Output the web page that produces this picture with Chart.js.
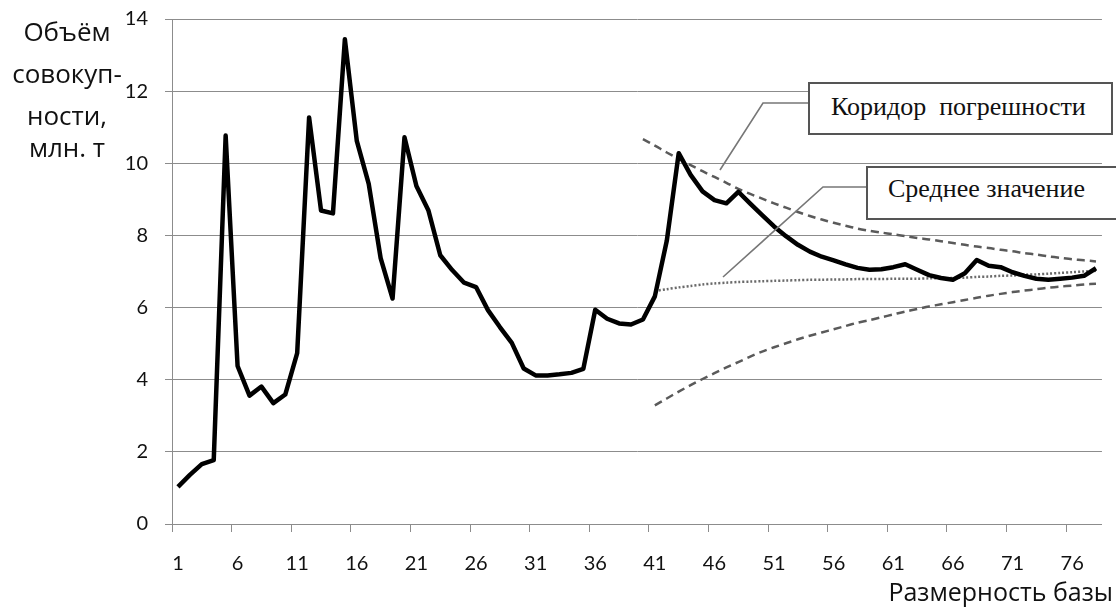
<!DOCTYPE html>
<html>
<head>
<meta charset="utf-8">
<script src="https://cdn.jsdelivr.net/npm/chart.js@4.4.1/dist/chart.umd.min.js"></script>
<style>
  html, body { margin: 0; padding: 0; background: #fff; }
  #wrap { position: relative; width: 1116px; height: 610px; overflow: hidden; }
  #myChart { position: absolute; left: 0; top: 0; }
  .ytitle { position: absolute; left: 0; width: 134px; text-align: center;
    font: 26px "Open Sans", sans-serif; line-height: 26px; color: #111; white-space: nowrap; }
  .xtitle { position: absolute; right: 3px; top: 579px; font: 25px "Open Sans", sans-serif;
    line-height: 25px; color: #111; white-space: nowrap; }
  .callout { position: absolute; background: #fff; border: 2px solid #555; box-sizing: border-box;
    font: 26px "Liberation Serif", "Times New Roman", serif; color: #111; white-space: nowrap;
    display: flex; align-items: center; }
  #leaders { position: absolute; left: 0; top: 0; }
</style>
</head>
<body>
<div id="wrap">
  <canvas id="myChart" width="1116" height="610"></canvas>
  <svg id="leaders" width="1116" height="610">
    <polyline points="808,103 763,103 720,170" fill="none" stroke="#777" stroke-width="1.6"/>
    <polyline points="866,187 823,187 723,277" fill="none" stroke="#777" stroke-width="1.6"/>
  </svg>
  <div class="callout" style="left:808px; top:82px; width:305px; height:53px; padding-left:21px; padding-bottom:3px;">Коридор&nbsp; погрешности</div>
  <div class="callout" style="left:866px; top:166px; width:260px; height:54px; padding-left:20px; padding-bottom:8px;">Среднее значение</div>
  <div class="ytitle" style="top:18px;">Объём</div>
  <div class="ytitle" style="top:60px;">совокуп-</div>
  <div class="ytitle" style="top:102px;">ности,</div>
  <div class="ytitle" style="top:134px;">млн. т</div>
  <div class="xtitle">Размерность базы</div>
</div>
<script>
  const labels = Array.from({length: 78}, (_, i) => String(i + 1));

  const volume = [
    1.03, 1.36, 1.66, 1.77, 10.77, 4.38, 3.56, 3.81, 3.35, 3.59,
    4.74, 11.27, 8.69, 8.61, 13.44, 10.62, 9.43, 7.37, 6.25, 10.72,
    9.37, 8.70, 7.45, 7.04, 6.69, 6.57, 5.93, 5.46, 5.02, 4.31,
    4.12, 4.12, 4.15, 4.19, 4.30, 5.94, 5.69, 5.56, 5.53, 5.67,
    6.31, 7.85, 10.28, 9.68, 9.22, 8.98, 8.89, 9.21, 8.88, 8.56,
    8.25, 7.98, 7.74, 7.55, 7.41, 7.31, 7.20, 7.10, 7.05, 7.06,
    7.12, 7.20, 7.05, 6.90, 6.82, 6.77, 6.95, 7.32, 7.16, 7.12,
    6.98, 6.88, 6.80, 6.77, 6.80, 6.83, 6.88, 7.09
  ];

  // коридор погрешности, верхняя граница (с 40-й точки)
  const upperBound = [
    10.67, 10.49, 10.30, 10.12, 9.95, 9.78, 9.62, 9.46, 9.29, 9.15,
    9.02, 8.89, 8.77, 8.65, 8.54, 8.44, 8.35, 8.27, 8.19, 8.13,
    8.08, 8.03, 7.98, 7.93, 7.89, 7.84, 7.79, 7.74, 7.69, 7.65,
    7.60, 7.56, 7.51, 7.47, 7.42, 7.38, 7.34, 7.31, 7.28
  ];

  // нижняя граница (с 41-й точки)
  const lowerBound = [
    3.29, 3.48, 3.67, 3.85, 4.02, 4.18, 4.34, 4.49, 4.64, 4.78,
    4.90, 5.01, 5.12, 5.22, 5.31, 5.40, 5.49, 5.58, 5.65, 5.73,
    5.81, 5.89, 5.96, 6.03, 6.09, 6.15, 6.21, 6.27, 6.33, 6.38,
    6.43, 6.47, 6.51, 6.55, 6.58, 6.61, 6.64, 6.66
  ];

  // среднее значение (с 41-й точки)
  const meanValue = [
    6.46, 6.51, 6.56, 6.60, 6.64, 6.67, 6.69, 6.71, 6.72, 6.73,
    6.74, 6.75, 6.76, 6.77, 6.77, 6.78, 6.78, 6.79, 6.79, 6.79,
    6.80, 6.80, 6.80, 6.81, 6.81, 6.82, 6.83, 6.85, 6.86, 6.88,
    6.89, 6.91, 6.92, 6.94, 6.96, 6.98, 7.00, 7.02
  ];

  const yTicks = [0, 2, 4, 6, 8, 10, 12, 14];

  function padFront(arr) {
    return Array(labels.length - arr.length).fill(null).concat(arr);
  }

  const gridGray = "#8c8c8c";
  const tickFont = { family: "Lato, sans-serif", size: 20 };

  const ctx = document.getElementById("myChart").getContext("2d");
  new Chart(ctx, {
    type: "line",
    data: {
      labels: labels,
      datasets: [
        {
          data: volume,
          borderColor: "#000",
          borderWidth: 4.5,
          borderJoinStyle: "round",
          pointRadius: 0,
          tension: 0
        },
        {
          data: padFront(upperBound),
          borderColor: "#5a5a5a",
          borderWidth: 2.5,
          borderDash: [8, 5],
          pointRadius: 0,
          tension: 0.3
        },
        {
          data: padFront(lowerBound),
          borderColor: "#5a5a5a",
          borderWidth: 2.5,
          borderDash: [8, 5],
          pointRadius: 0,
          tension: 0.3
        },
        {
          data: padFront(meanValue),
          borderColor: "#6a6a6a",
          borderWidth: 2.5,
          borderDash: [2, 2],
          pointRadius: 0,
          tension: 0.3
        }
      ]
    },
    options: {
      responsive: false,
      animation: false,
      layout: { padding: { left: 0, top: 19, right: 3, bottom: 0 } },
      plugins: { legend: { display: false }, tooltip: { enabled: false } },
      scales: {
        x: {
          type: "category",
          offset: true,
          afterFit: (s) => { s.height = 86; },
          grid: {
            offset: true,
            drawOnChartArea: false,
            drawTicks: true,
            tickLength: 8,
            color: (c) => (c.index % 5 === 0 ? gridGray : "rgba(0,0,0,0)")
          },
          border: { color: gridGray, width: 1 },
          ticks: {
            autoSkip: false,
            maxRotation: 0,
            padding: 20,
            color: "#111",
            font: tickFont,
            callback: (v, i) => (i % 5 === 0 ? labels[i] : "")
          }
        },
        y: {
          min: 0,
          max: 14,
          afterFit: (s) => { s.width = 172; s.paddingTop = 0; s.paddingBottom = 0; },
          afterBuildTicks: (s) => { s.ticks = yTicks.map(v => ({ value: v })); },
          grid: { color: gridGray, tickLength: 7, lineWidth: 1 },
          border: { color: gridGray, width: 1 },
          ticks: { padding: 17, color: "#111", font: tickFont }
        }
      }
    }
  });
</script>
</body>
</html>
